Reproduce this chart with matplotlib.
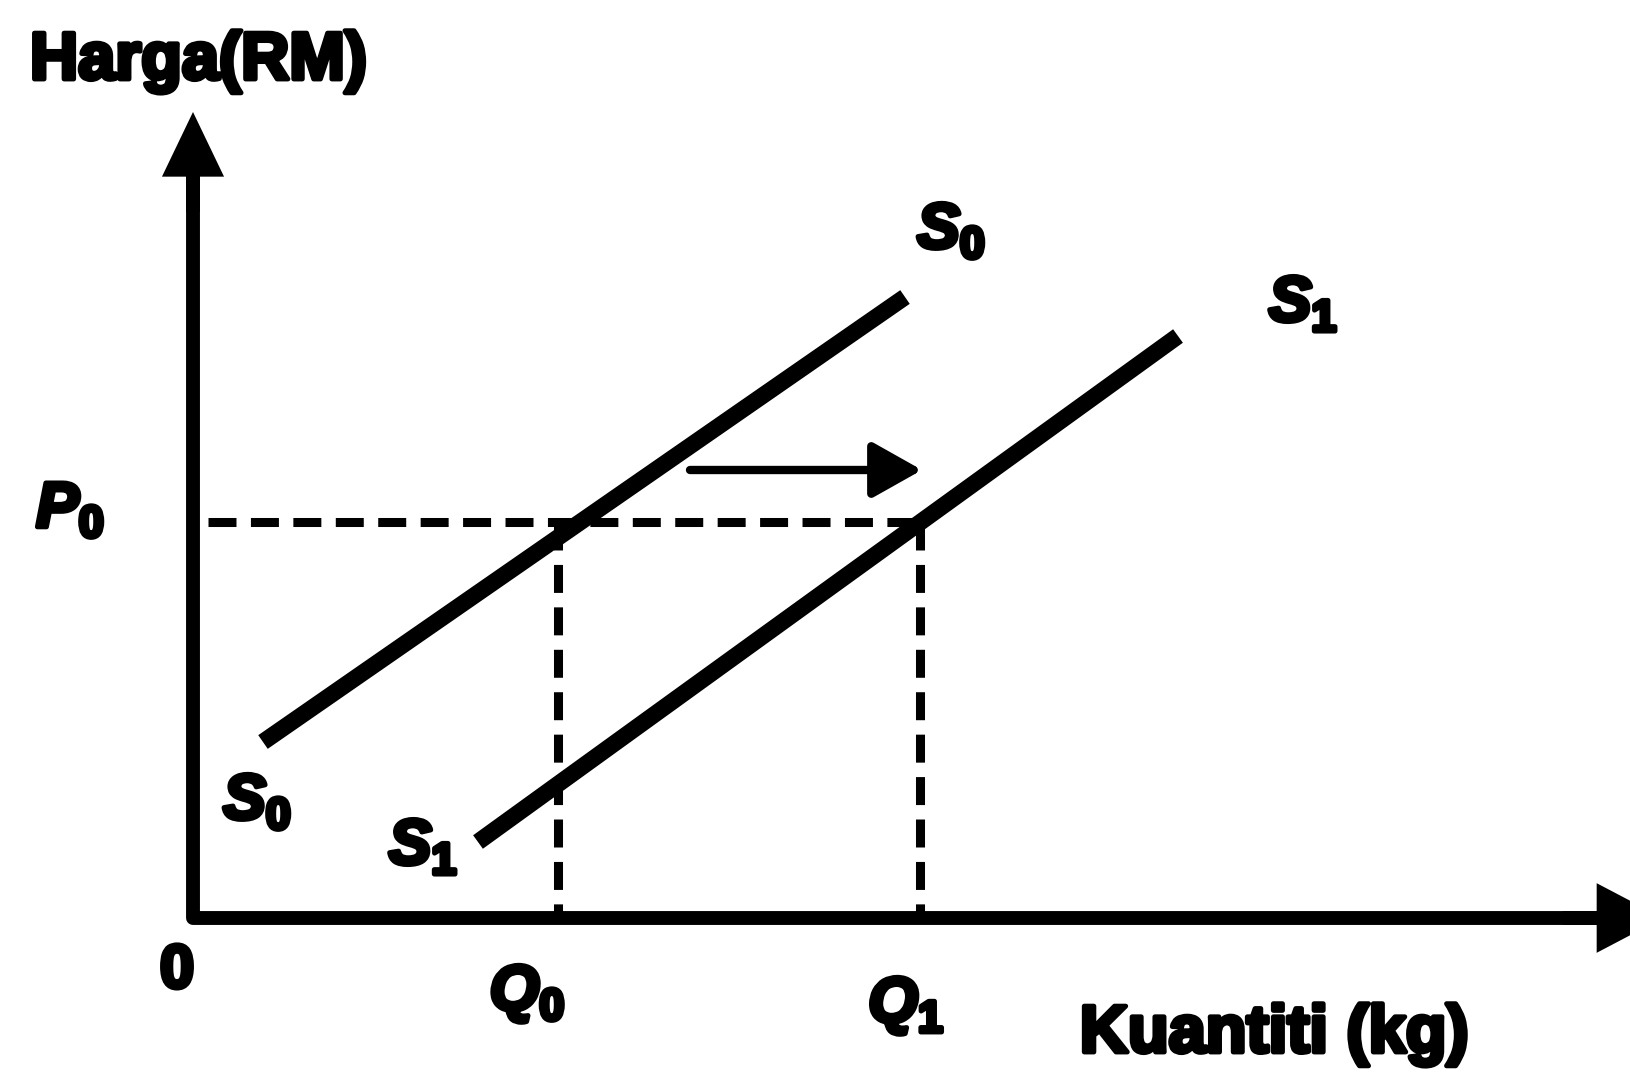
import matplotlib
matplotlib.use("Agg")
import matplotlib.pyplot as plt
import matplotlib.patheffects as pe

plt.rcParams['font.family'] = ['Liberation Sans', 'DejaVu Sans']
plt.rcParams['mathtext.fontset'] = 'custom'
plt.rcParams['mathtext.it'] = 'Liberation Sans:italic:bold'
plt.rcParams['mathtext.rm'] = 'Liberation Sans:bold'
plt.rcParams['mathtext.bf'] = 'Liberation Sans:bold'

# ---- data (diagram units) ----
S0_x = [0.70, 7.12]
S0_y = [1.76, 6.21]
S1_x = [2.85, 9.85]
S1_y = [0.76, 5.82]
P0 = 3.96
Q0 = 3.65
Q1 = 7.27
shift_x = [4.97, 7.29]
shift_y = [4.48, 4.48]
x_axis_end = 14.7
y_axis_end = 8.06

x_label = "Kuantiti (kg)"
y_label = "Harga(RM)"
curve_labels = [r"$S_{\mathit{0}}$", r"$S_{\mathit{1}}$"]
tick_labels = ["0", r"$Q_{\mathit{0}}$", r"$Q_{\mathit{1}}$", r"$P_{\mathit{0}}$"]

fig = plt.figure(figsize=(16.31, 10.76), dpi=100)
ax = fig.add_axes([0, 0, 1, 1])
ax.set_xlim(-1.93, 14.38)
ax.set_ylim(-1.58, 9.18)
ax.axis('off')

stroke = [pe.withStroke(linewidth=3.5, foreground='black')]

# axes (L shape) + arrowheads
ax.plot([0, 0, x_axis_end - 0.5], [y_axis_end - 0.5, 0, 0], color='black',
        lw=10, solid_joinstyle='round', solid_capstyle='butt', clip_on=False)
ax.annotate('', xy=(0, y_axis_end), xytext=(0, y_axis_end - 1.0),
            arrowprops=dict(arrowstyle='-|>,head_length=0.75,head_width=0.36',
                            lw=10, color='black', mutation_scale=40,
                            shrinkA=0, shrinkB=0, joinstyle='miter',
                            capstyle='butt'),
            annotation_clip=False)
ax.annotate('', xy=(x_axis_end, 0), xytext=(x_axis_end - 1.0, 0),
            arrowprops=dict(arrowstyle='-|>,head_length=0.8,head_width=0.42',
                            lw=10, color='black', mutation_scale=40,
                            shrinkA=0, shrinkB=0, joinstyle='miter',
                            capstyle='butt'),
            annotation_clip=False)

# dashed guides
ax.plot([0.15, Q1], [P0, P0], color='black', lw=6.5, dashes=(3.1, 1.6))
ax.plot([Q0, Q0], [P0, 0], color='black', lw=6.5, dashes=(3.1, 1.6))
ax.plot([Q1, Q1], [P0, 0], color='black', lw=6.5, dashes=(3.1, 1.6))

# supply curves
ax.plot(S0_x, S0_y, color='black', lw=12, solid_capstyle='butt')
ax.plot(S1_x, S1_y, color='black', lw=12, solid_capstyle='butt')

# shift arrow
ax.annotate('', xy=(shift_x[1], shift_y[1]), xytext=(shift_x[0], shift_y[0]),
            arrowprops=dict(arrowstyle='-|>,head_length=0.8,head_width=0.45',
                            lw=6, color='black', mutation_scale=38,
                            shrinkA=0, shrinkB=0))

# labels
ax.text(-1.63, 8.56, y_label, fontsize=48, fontweight='bold', ha='left',
        va='center', path_effects=stroke)
ax.text(10.81, -1.17, x_label, fontsize=48, fontweight='bold', ha='center',
        va='center', path_effects=stroke)

ax.text(-0.16, -0.54, tick_labels[0], fontsize=44, fontweight='bold',
        ha='center', va='center', path_effects=stroke)
ax.text(3.34, -0.75, tick_labels[1], fontsize=46, ha='center', va='center',
        path_effects=stroke)
ax.text(7.13, -0.87, tick_labels[2], fontsize=46, ha='center', va='center',
        path_effects=stroke)
ax.text(-1.23, 4.08, tick_labels[3], fontsize=46, ha='center', va='center',
        path_effects=stroke)

ax.text(7.58, 6.87, curve_labels[0], fontsize=46, ha='center', va='center',
        path_effects=stroke)
ax.text(11.10, 6.14, curve_labels[1], fontsize=46, ha='center', va='center',
        path_effects=stroke)
ax.text(0.64, 1.16, curve_labels[0], fontsize=46, ha='center', va='center',
        path_effects=stroke)
ax.text(2.30, 0.71, curve_labels[1], fontsize=46, ha='center', va='center',
        path_effects=stroke)

fig.savefig("out.png", dpi=100)
